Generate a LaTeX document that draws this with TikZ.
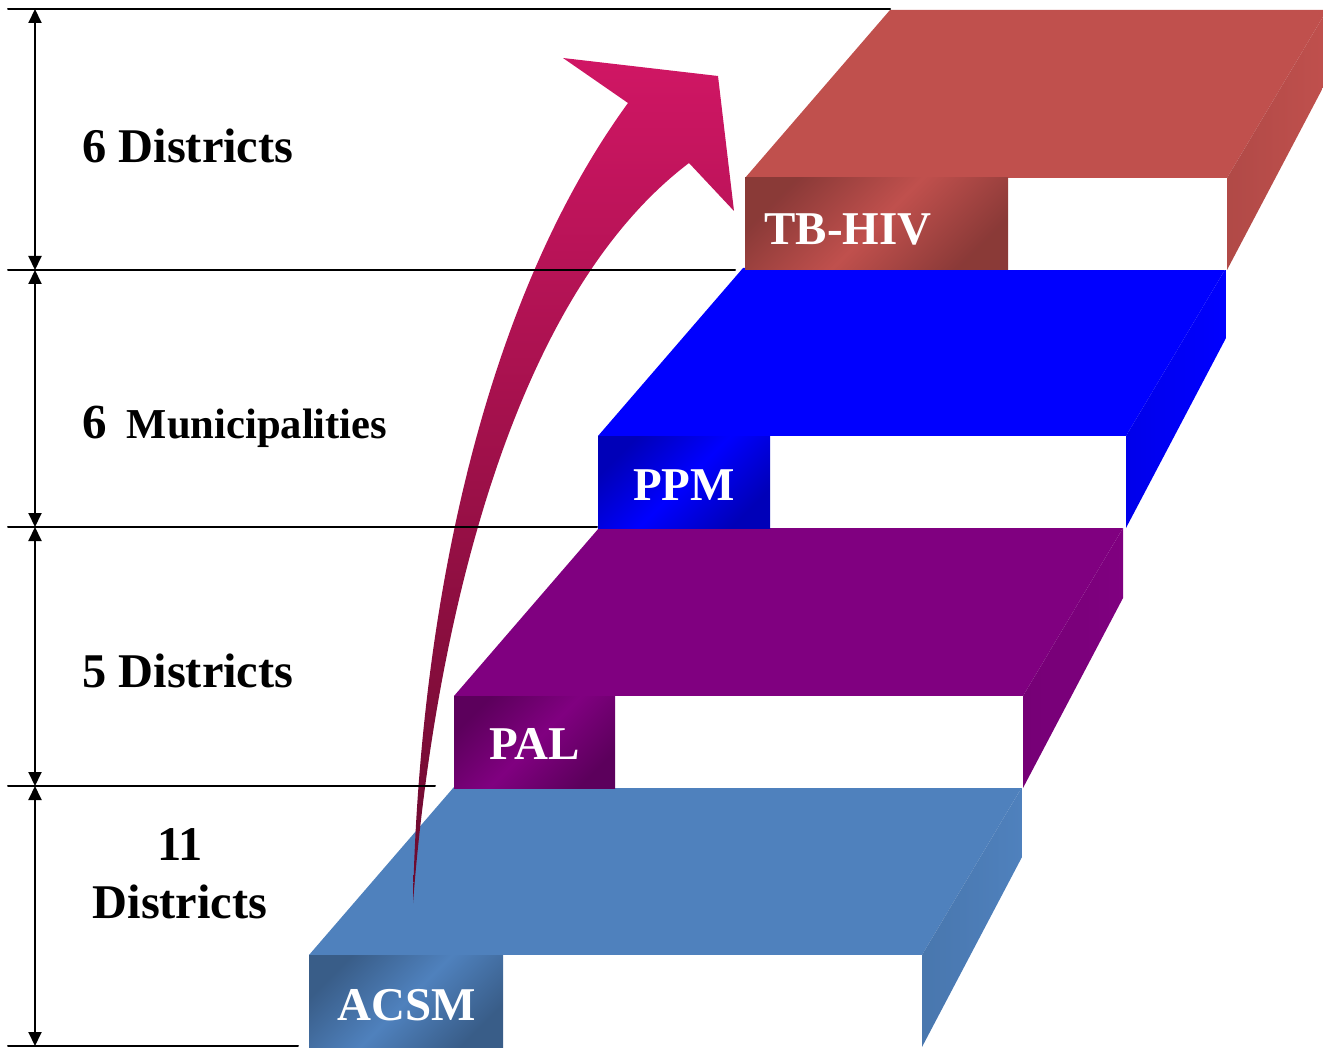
\documentclass[tikz,border=0pt]{standalone}
\usepackage{fontspec}
\setmainfont{Liberation Serif}
\usetikzlibrary{arrows.meta}

\definecolor{acsmblue}{HTML}{4F81BD}
\definecolor{palpurple}{HTML}{800080}
\definecolor{ppmblue}{HTML}{0000FF}
\definecolor{tbred}{HTML}{C0504D}
\definecolor{arrowtop}{HTML}{D01664}
\definecolor{arrowbot}{HTML}{690A2D}

\tikzset{
  levelfont/.style={font=\fontsize{24.2}{29}\selectfont\bfseries,inner sep=0pt},
  boxfont/.style={font=\fontsize{23.5}{29}\selectfont\bfseries,text=white}
}

\begin{document}
\begin{tikzpicture}[line cap=round,line join=round,x=0.5pt,y=-0.5pt,>={Triangle[length=7pt,width=6.5pt]}]
\useasboundingbox (0,0) rectangle (1323,1048);
% steps: front-left x / front-top y / front-right x / label-box right x / colour
\foreach \xl/\yf/\xr/\xb/\col in {309/955/922/503/acsmblue,454/696/1023/615/palpurple,598/436/1126/770/ppmblue,745/178/1227/1008/tbred}{
  \fill[\col] (\xl,\yf) -- ({\xl+145},{\yf-168}) -- ({\xr+100},{\yf-168}) -- (\xr,\yf) -- cycle;
  \shade[left color=\col!92!black,right color=\col] (\xr,\yf) -- ({\xr+100},{\yf-168}) -- ({\xr+100},{\yf-98}) -- (\xr,{\yf+92}) -- cycle;
  \fill[white] (\xb,\yf) rectangle (\xr,{\yf+92});
  \shade[top color=\col!72!black,bottom color=\col!72!black,middle color=\col,shading angle=45] (\xl,\yf) rectangle (\xb,{\yf+92});
}
\node[boxfont,anchor=base] (acsm) at (407,1020) {ACSM};
\node[boxfont,anchor=base] (pal) at (535,759) {PAL};
\node[boxfont,anchor=base] (ppm) at (684,500) {PPM};
\node[boxfont,anchor=base] (tbhiv) at (848,245) {TB-HIV};
% rising arrow
\shade[top color=arrowtop,middle color=arrowtop!80!arrowbot,bottom color=arrowbot]
  (413,903) .. controls (418,650) and (470,320) .. (628,103)
  -- (563,58) -- (718,76) -- (734,211) -- (689,163)
  .. controls (495,310) and (430,680) .. (413,903) -- cycle;
% level lines and spans
\foreach \y/\xe [count=\i from 0] in {9/890,270/735,527/597,786/435,1046/298}{
  \coordinate (l\i) at (35,\y);
  \draw[line width=1pt] (8,\y) -- (\xe,\y);
}
\foreach \a/\b in {0/1,1/2,2/3,3/4}
  \draw[<->,line width=1pt] (l\a) -- (l\b);
\node[levelfont,anchor=base west] (d6) at (82,163) {6 Districts};
\node[anchor=base west,inner sep=0pt] (m6) at (82,438) {\bfseries\fontsize{24.5}{29}\selectfont 6\hspace{10pt}\fontsize{21.3}{29}\selectfont Municipalities};
\node[levelfont,anchor=base west] (d5) at (82,687) {5 Districts};
\node[levelfont,align=center] (d11) at (180,874) {11\\Districts};
\end{tikzpicture}
\end{document}
